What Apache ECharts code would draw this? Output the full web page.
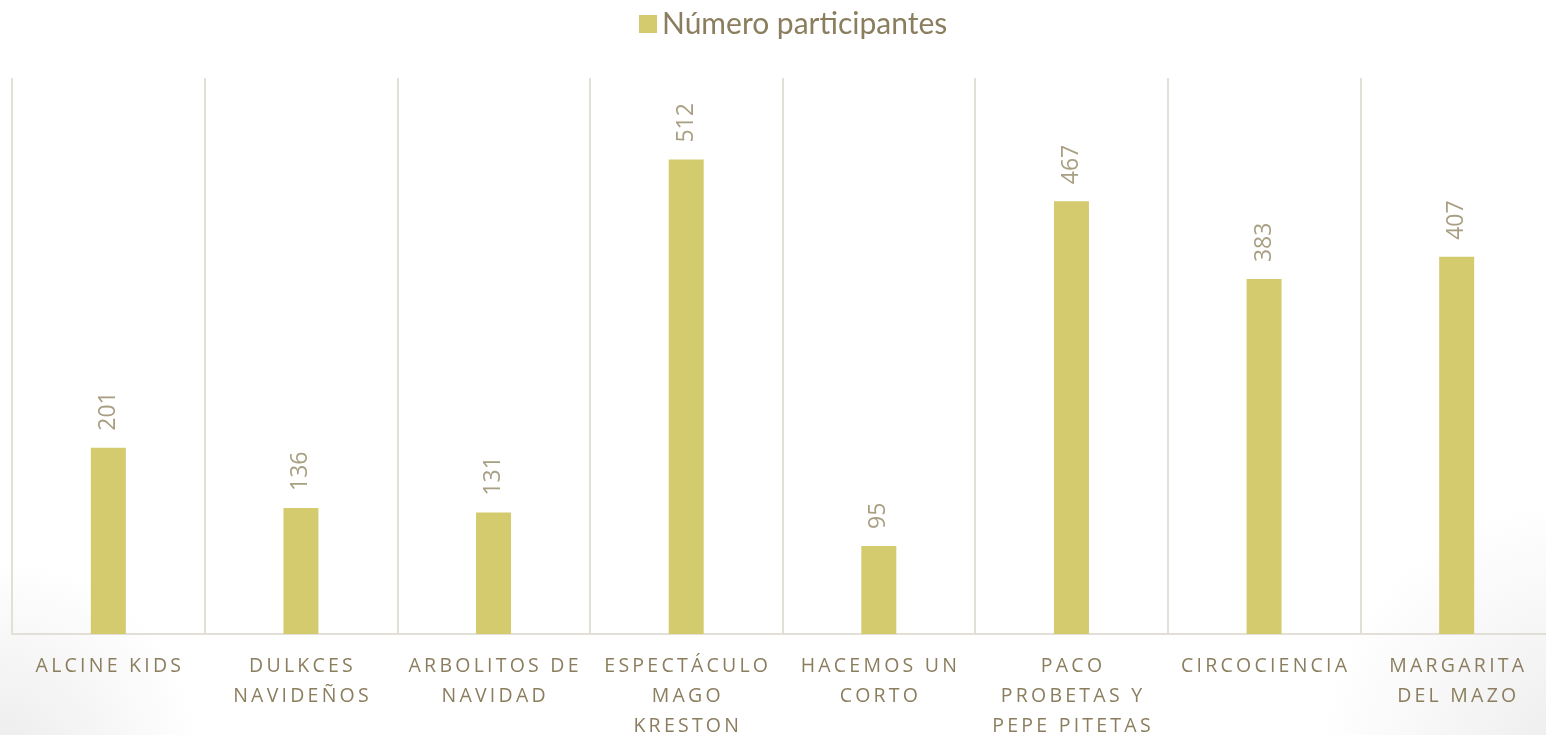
<!DOCTYPE html>
<html>
<head>
<meta charset="utf-8">
<script src="https://cdn.jsdelivr.net/npm/echarts@6/dist/echarts.min.js"></script>
<style>
  html, body { margin: 0; padding: 0; background: #fff; }
  #main {
    width: 1546px; height: 735px;
    background:
      radial-gradient(circle at 0 760px, #ececec 0, rgba(255,255,255,0) 200px),
      radial-gradient(circle at 1580px 760px, #ececec 0, rgba(255,255,255,0) 260px),
      #fff;
  }
</style>
</head>
<body>
<div id="main"></div>
<script>
// categorias (con saltos de linea como en el original)
var categorias = [
  'ALCINE KIDS',
  'DULKCES\nNAVIDEÑOS',
  'ARBOLITOS DE\nNAVIDAD',
  'ESPECTÁCULO\nMAGO\nKRESTON',
  'HACEMOS UN\nCORTO',
  'PACO\nPROBETAS Y\nPEPE PITETAS',
  'CIRCOCIENCIA',
  'MARGARITA\nDEL MAZO'
];
var participantes = [201, 136, 131, 512, 95, 467, 383, 407];
var nombreSerie = 'Número participantes';

// espaciado entre letras (zrender no tiene letter-spacing)
function espaciar(txt) {
  return txt.split('\n').map(function (linea) {
    return linea.split('').join('\u2009');
  }).join('\n');
}

var chart = echarts.init(document.getElementById('main'));
var option = {
  backgroundColor: 'transparent',
  animation: false,
  legend: {
    top: 4,
    left: 634,
    itemWidth: 18,
    itemHeight: 18,
    itemGap: 8,
    icon: 'rect',
    data: [nombreSerie],
    textStyle: {
      color: '#8B7E5E',
      fontSize: 30,
      fontFamily: 'Lato'
    }
  },
  grid: {
    left: 12,
    top: 78,
    right: -7,
    bottom: 101,
    outerBoundsMode: 'none',
    containLabel: false
  },
  xAxis: {
    type: 'category',
    data: categorias,
    axisTick: { show: false },
    axisLine: {
      lineStyle: { color: '#E2DFD6', width: 2 }
    },
    splitLine: {
      show: true,
      interval: 0,
      lineStyle: { color: '#E2DFD6', width: 2 }
    },
    axisLabel: {
      interval: 0,
      margin: 17,
      color: '#8B7E5E',
      fontSize: 19.5,
      lineHeight: 30,
      fontFamily: 'Open Sans',
      formatter: function (v) { return espaciar(v); }
    }
  },
  yAxis: {
    type: 'value',
    min: 0,
    max: 600,
    show: false,
    splitLine: { show: false }
  },
  series: [{
    name: nombreSerie,
    type: 'bar',
    barWidth: 35,
    data: participantes,
    itemStyle: { color: '#D3CB6D' },
    label: {
      show: true,
      position: 'top',
      rotate: 90,
      align: 'left',
      verticalAlign: 'middle',
      distance: 17,
      color: '#A89F82',
      fontSize: 23,
      fontFamily: 'Open Sans'
    }
  }]
};
chart.setOption(option);
</script>
</body>
</html>
